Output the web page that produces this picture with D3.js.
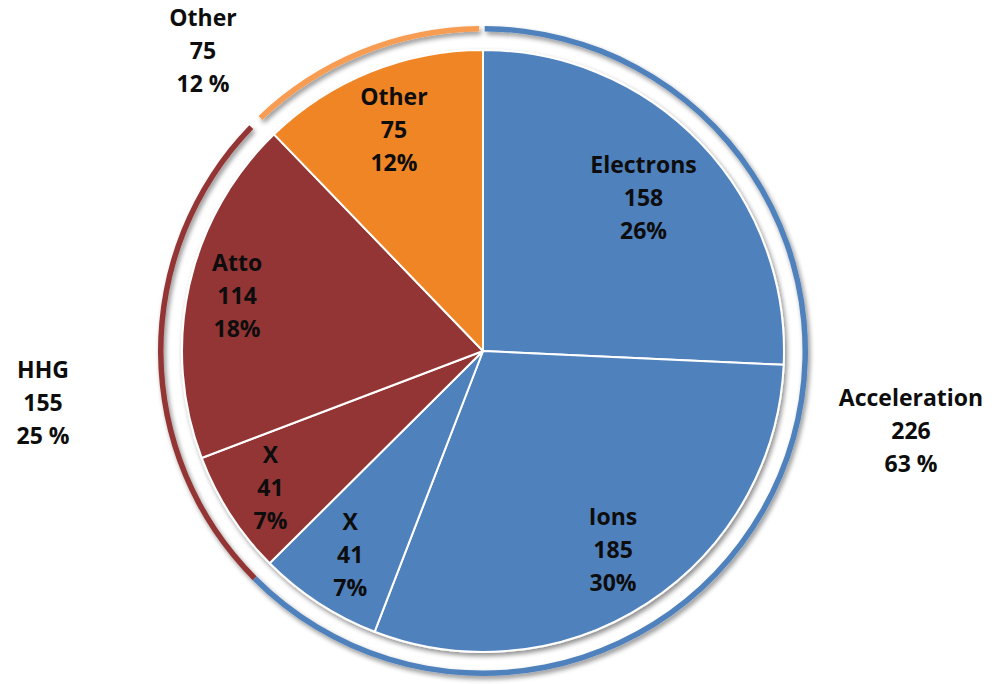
<!DOCTYPE html>
<html>
<head>
<meta charset="utf-8">
<script src="https://cdn.jsdelivr.net/npm/d3@7"></script>
<style>
  html, body { margin: 0; padding: 0; background: #fff; }
  svg { display: block; }
  text { font-family: "Open Sans", Lato, sans-serif; font-weight: 700; fill: #0d0d0d; }
</style>
</head>
<body>
<svg id="chart" width="994" height="684"></svg>
<script>
// ---- data ----
const sliceNames  = ["Electrons", "Ions", "X", "X", "Atto", "Other"];
const sliceValues = [158, 185, 41, 41, 114, 75];
const slicePct    = ["26%", "30%", "7%", "7%", "18%", "12%"];
const sliceGroup  = ["Acceleration", "Acceleration", "Acceleration", "HHG", "HHG", "Other"];

const groupNames  = ["Acceleration", "HHG", "Other"];
const groupValues = [226, 155, 75];
const groupPct    = ["63 %", "25 %", "12 %"];

// ---- layout ----
const W = 994, H = 684;
const cx = 483, cy = 351;
const R = 301;
const ringIn = 319.5, ringOut = 325;
const groupColor = { "Acceleration": "#4F81BD", "HHG": "#943634", "Other": "url(#orangeGrad)" };
const ringColor  = { "Acceleration": "#4F81BD", "HHG": "#943634", "Other": "#F79C52" };
const labelR = [222, 238, 243, 253, 252, 238];
const lineH = 33;

const svg = d3.select("#chart");
const defs = svg.append("defs");
const grad = defs.append("linearGradient").attr("id", "orangeGrad")
  .attr("gradientUnits", "userSpaceOnUse")
  .attr("x1", 0).attr("y1", cy - R).attr("x2", 0).attr("y2", cy);
grad.append("stop").attr("offset", "0%").attr("stop-color", "#F08527");
grad.append("stop").attr("offset", "100%").attr("stop-color", "#BC5D1C");

const f = defs.append("filter").attr("id", "shadow")
  .attr("x", "-10%").attr("y", "-10%").attr("width", "120%").attr("height", "120%");
f.append("feGaussianBlur").attr("in", "SourceAlpha").attr("stdDeviation", 2.5).attr("result", "b");
f.append("feOffset").attr("in", "b").attr("dx", 1.5).attr("dy", 3).attr("result", "o");
f.append("feComponentTransfer").attr("in", "o").attr("result", "oa")
  .append("feFuncA").attr("type", "linear").attr("slope", 0.45);
const m = f.append("feMerge");
m.append("feMergeNode").attr("in", "oa");
m.append("feMergeNode").attr("in", "SourceGraphic");

const g = svg.append("g").attr("transform", `translate(${cx},${cy})`);

// pie
const pie = d3.pie().sort(null).value(d => d.v);
const slices = pie(sliceValues.map((v, i) => ({ v, i })));
const arc = d3.arc().innerRadius(0).outerRadius(R);

g.append("g").attr("filter", "url(#shadow)")
  .selectAll("path").data(slices).join("path")
  .attr("d", arc)
  .attr("fill", d => groupColor[sliceGroup[d.data.i]])
  .attr("stroke", "#fff").attr("stroke-width", 2).attr("stroke-linejoin", "round");

// ring (group totals)
const total = d3.sum(sliceValues);
const angle = d3.scaleLinear().domain([0, total]).range([0, 2 * Math.PI]);
const groupStart = {}, groupEnd = {};
let acc = 0;
sliceValues.forEach((v, i) => {
  const gname = sliceGroup[i];
  if (groupStart[gname] === undefined) groupStart[gname] = acc;
  acc += v;
  groupEnd[gname] = acc;
});
const deg = Math.PI / 180;
const ringPadStart = { "Acceleration": 0.3 * deg, "HHG": 0, "Other": 0.3 * deg };
const ringPadEnd   = { "Acceleration": 0, "HHG": 2.0 * deg, "Other": 0.7 * deg };
const ringArc = d3.arc().innerRadius(ringIn).outerRadius(ringOut);
g.append("g").attr("filter", "url(#shadow)")
  .selectAll("path").data(groupNames).join("path")
  .attr("d", n => ringArc({
    startAngle: angle(groupStart[n]) + ringPadStart[n],
    endAngle: angle(groupEnd[n]) - ringPadEnd[n]
  }))
  .attr("fill", n => ringColor[n]);

// slice labels
function addLabel(x, y, lines) {
  const t = g.append("text").attr("text-anchor", "middle").attr("font-size", 23);
  lines.forEach((s, k) => {
    t.append("tspan").attr("x", x).attr("y", y + (k - 1) * lineH).attr("dy", "0.35em").text(s);
  });
}
slices.forEach((d, i) => {
  const a = (d.startAngle + d.endAngle) / 2;
  const r = labelR[i];
  addLabel(r * Math.sin(a), -r * Math.cos(a), [sliceNames[i], String(sliceValues[i]), slicePct[i]]);
});

// group labels (outside)
const groupLabelPos = { "Acceleration": [428, 80], "HHG": [-440, 52], "Other": [-280, -300] };
groupNames.forEach((n, i) => {
  const p = groupLabelPos[n];
  addLabel(p[0], p[1], [n, String(groupValues[i]), groupPct[i]]);
});
</script>
</body>
</html>
